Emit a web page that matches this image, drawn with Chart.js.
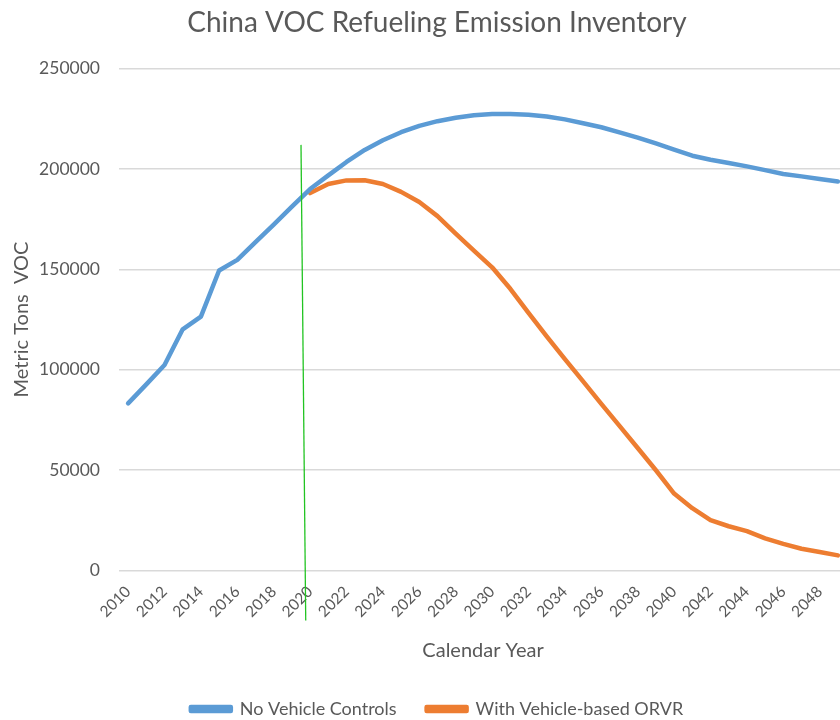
<!DOCTYPE html>
<html>
<head>
<meta charset="utf-8">
<script src="https://cdn.jsdelivr.net/npm/chart.js@4"></script>
<style>
  html, body { margin: 0; padding: 0; background: #fff; overflow: hidden; }
  #wrap { width: 864px; height: 728px; position: relative; }
</style>
</head>
<body>
<div id="wrap"><canvas id="vocChart"></canvas></div>
<script>
// Data
const years = [];
for (let y = 2010; y <= 2049; y++) years.push(String(y));

const noControls = [
    83200, 92700, 102300, 120100, 126400, 149400, 154700, 163500, 172300, 181200,
    190000, 196800, 203500, 209500, 214300, 218300, 221500, 223800, 225500, 226800,
    227400, 227400, 227000, 226100, 224700, 222800, 220800, 218200, 215600, 212700,
    209600, 206600, 204600, 203000, 201300, 199400, 197500, 196300, 195000, 193800
];

const withORVR = [
    null, null, null, null, null, null, null, null, null, null,
    188000, 192500, 194300, 194400, 192500, 188600, 183500, 176500, 167800, 159300,
    151000, 140300, 128300, 116600, 105300, 94200, 83000, 72000, 61000, 49900,
    38300, 31000, 25000, 22000, 19600, 16000, 13200, 10800, 9200, 7500
];

const yTicks = [0, 50000, 100000, 150000, 200000, 250000];

const textColor = "#595959";
const font = "Lato, 'Open Sans', sans-serif";

// hand-drawn green marker line near 2020 (slightly slanted in the original)
const markerLine = {
    id: "markerLine",
    afterDatasetsDraw(chart) {
        const { ctx, scales } = chart;
        const x1 = scales.x.getPixelForValue(9.5);
        const y1 = scales.y.getPixelForValue(212000);
        const x2 = scales.x.getPixelForValue(9.76);
        const y2 = scales.y.getPixelForValue(-25000);
        ctx.save();
        ctx.strokeStyle = "#22c422";
        ctx.lineWidth = 1.3;
        ctx.beginPath();
        ctx.moveTo(x1, y1);
        ctx.lineTo(x2, y2);
        ctx.stroke();
        ctx.restore();
    },
};

document.addEventListener("DOMContentLoaded", function () {
    const ctx = document.getElementById("vocChart").getContext("2d");
    new Chart(ctx, {
        type: "line",
        data: {
            labels: years,
            datasets: [
                {
                    label: "No Vehicle Controls",
                    data: noControls,
                    borderColor: "#5b9bd5",
                    backgroundColor: "#5b9bd5",
                    borderWidth: 4.5,
                    pointRadius: 0,
                    tension: 0,
                    borderCapStyle: "round",
                    borderJoinStyle: "round",
                },
                {
                    label: "With Vehicle-based ORVR",
                    data: withORVR,
                    borderColor: "#ed7d31",
                    backgroundColor: "#ed7d31",
                    borderWidth: 4.5,
                    pointRadius: 0,
                    tension: 0,
                    borderCapStyle: "round",
                    borderJoinStyle: "round",
                },
            ],
        },
        options: {
            responsive: true,
            maintainAspectRatio: false,
            animation: false,
            layout: { padding: { left: 10, right: 0, top: 6, bottom: 0 } },
            plugins: {
                title: {
                    display: true,
                    text: "China VOC Refueling Emission Inventory",
                    color: textColor,
                    font: { family: font, size: 28, weight: "normal" },
                    padding: { top: 0, bottom: 29 },
                },
                legend: {
                    position: "bottom",
                    labels: {
                        color: textColor,
                        font: { family: font, size: 18 },
                        boxWidth: 40,
                        boxHeight: 4,
                        padding: 30,
                    },
                },
                tooltip: { enabled: false },
            },
            scales: {
                x: {
                    offset: true,
                    grid: { display: false },
                    border: { display: false },
                    ticks: {
                        color: textColor,
                        font: { family: font, size: 15.5 },
                        autoSkip: false,
                        minRotation: 45,
                        maxRotation: 45,
                        padding: 4,
                        callback: function (value, index) {
                            return index % 2 === 0 ? this.getLabelForValue(value) : "";
                        },
                    },
                    title: {
                        display: true,
                        text: "Calendar Year",
                        color: textColor,
                        font: { family: font, size: 20 },
                        padding: { top: 14, bottom: 7 },
                    },
                },
                y: {
                    min: 0,
                    max: 250000,
                    afterBuildTicks: (axis) => {
                        axis.ticks = yTicks.map((v) => ({ value: v }));
                    },
                    afterFit: (axis) => {
                        axis.width = 109;
                    },
                    grid: { color: "#d9d9d9", lineWidth: 1.5, drawTicks: false },
                    border: { display: false },
                    ticks: {
                        color: textColor,
                        font: { family: font, size: 17.5 },
                        padding: 19,
                        callback: (v) => String(v),
                    },
                    title: {
                        display: true,
                        text: "Metric Tons  VOC",
                        color: textColor,
                        font: { family: font, size: 20 },
                        padding: { top: 0, bottom: 6 },
                    },
                },
                // empty spacer on the right so the plot runs off the picture edge
                spacer: {
                    position: "right",
                    min: 0,
                    max: 1,
                    grid: { display: false },
                    border: { display: false },
                    ticks: { display: false },
                    afterFit: (axis) => {
                        axis.width = 17;
                    },
                },
            },
        },
        plugins: [markerLine],
    });
});
</script>
</body>
</html>
